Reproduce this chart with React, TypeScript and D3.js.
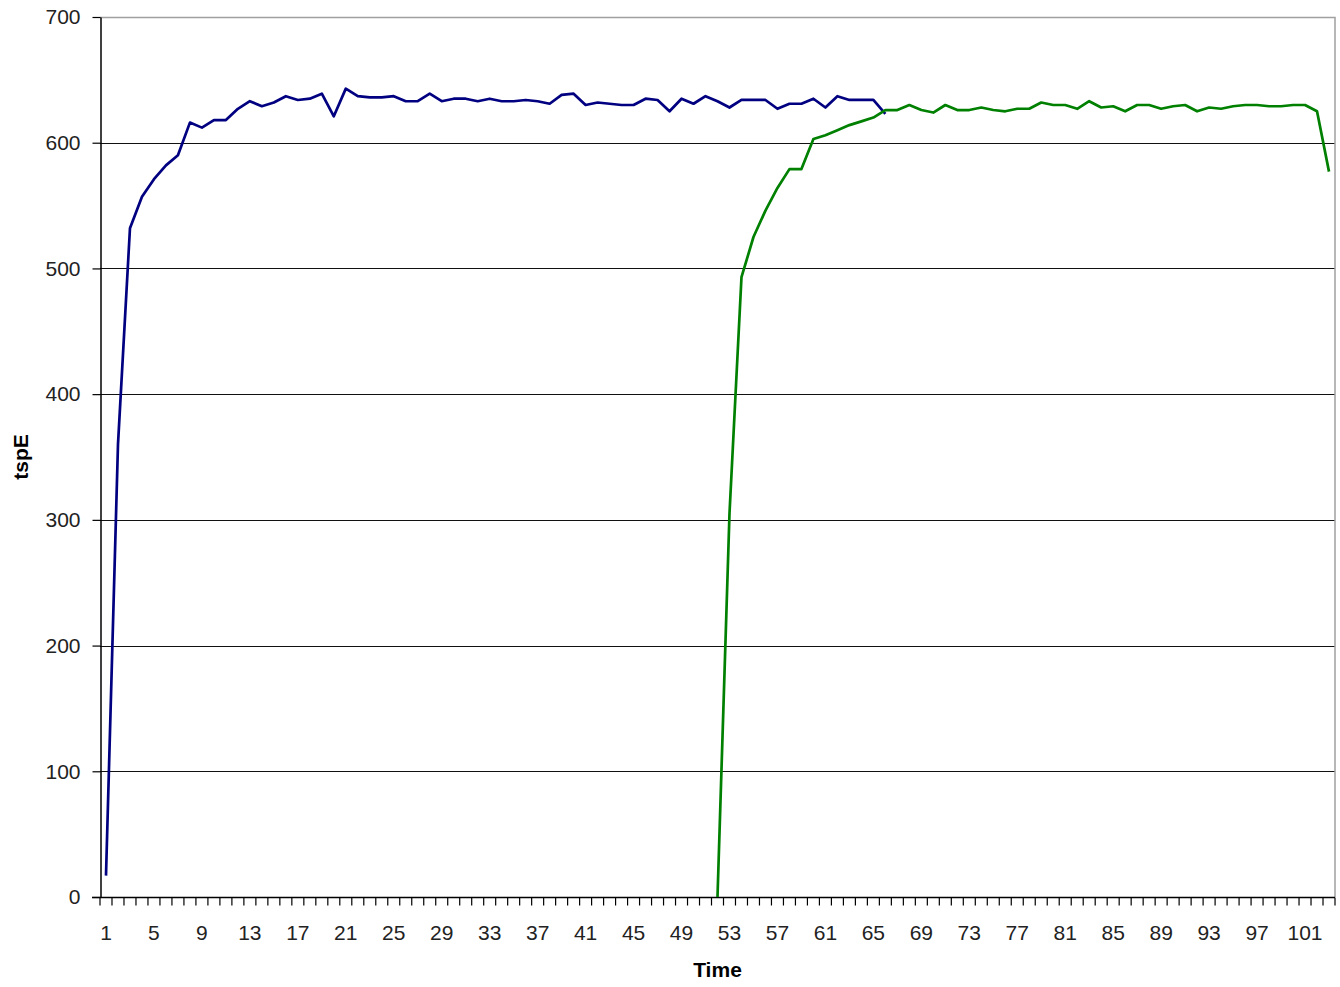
import React, { useEffect, useRef } from 'react';
import * as d3 from 'd3';

// category axis: Time 1..103, labels every 4th
const timeSteps: number[] = Array.from({ length: 103 }, (_, i) => i + 1);
const timeLabels = [1, 5, 9, 13, 17, 21, 25, 29, 33, 37, 41, 45, 49, 53, 57, 61, 65, 69, 73, 77, 81, 85, 89, 93, 97, 101];
const yTicks = [0, 100, 200, 300, 400, 500, 600, 700];

// first run, starts at Time 1
const blueStart = 1;
const blueValues = [
  17, 360, 532, 557, 571, 582, 590, 616, 612, 618,
  618, 627, 633, 629, 632, 637, 634, 635, 639, 621,
  643, 637, 636, 636, 637, 633, 633, 639, 633, 635,
  635, 633, 635, 633, 633, 634, 633, 631, 638, 639,
  630, 632, 631, 630, 630, 635, 634, 625, 635, 631,
  637, 633, 628, 634, 634, 634, 627, 631, 631, 635,
  628, 637, 634, 634, 634, 623,
];

// second run, starts at Time 52
const greenStart = 52;
const greenValues = [
  0, 305, 493, 525, 546, 564, 579, 579, 603, 606,
  610, 614, 617, 620, 626, 626, 630, 626, 624, 630,
  626, 626, 628, 626, 625, 627, 627, 632, 630, 630,
  627, 633, 628, 629, 625, 630, 630, 627, 629, 630,
  625, 628, 627, 629, 630, 630, 629, 629, 630, 630,
  625, 577,
];

const series = [
  { name: 'run1', start: blueStart, values: blueValues, color: '#000080' },
  { name: 'run2', start: greenStart, values: greenValues, color: '#008000' },
];

const WIDTH = 1340;
const HEIGHT = 987;
const FONT = '"Liberation Sans", Arial, sans-serif';

export default function App() {
  const svgRef = useRef<SVGSVGElement>(null);

  useEffect(() => {
    if (!svgRef.current) return;
    const svg = d3.select(svgRef.current);
    svg.selectAll('*').remove();

    const left = 100, right = 1335, top = 17, bottom = 897;

    const x = d3.scaleBand<number>()
      .domain(timeSteps)
      .range([left, right])
      .paddingInner(0)
      .paddingOuter(0);
    const xc = (d: number) => (x(d) ?? 0) + x.bandwidth() / 2;

    const y = d3.scaleLinear().domain([0, 700]).range([bottom, top]);

    // gridlines
    svg.append('g')
      .selectAll('line')
      .data(yTicks.filter(t => t > 0 && t < 700))
      .join('line')
      .attr('x1', left).attr('x2', right)
      .attr('y1', d => Math.round(y(d)) + 0.5).attr('y2', d => Math.round(y(d)) + 0.5)
      .attr('stroke', '#111').attr('stroke-width', 1.2);

    // plot border (top / right)
    svg.append('path')
      .attr('d', `M${left},${Math.round(top) + 0.5}H${right}V${bottom}`)
      .attr('fill', 'none')
      .attr('stroke', '#a0a0a0')
      .attr('stroke-width', 1.5);

    // y axis
    const yAxis = svg.append('g')
      .attr('transform', `translate(${left + 0.5},0)`)
      .call(d3.axisLeft(y).tickValues(yTicks).tickSize(8).tickPadding(12).tickSizeOuter(0));
    yAxis.select('.domain').attr('stroke', '#000').attr('stroke-width', 1.5);
    yAxis.selectAll('.tick line').attr('stroke', '#000').attr('stroke-width', 1.2);
    yAxis.selectAll('.tick text')
      .attr('font-family', FONT).attr('font-size', 21).attr('fill', '#222');

    // x axis: ticks on category boundaries
    const xg = svg.append('g').attr('transform', `translate(0,${bottom + 0.5})`);
    xg.append('line')
      .attr('x1', left - 8).attr('x2', right)
      .attr('stroke', '#000').attr('stroke-width', 1.5);
    xg.selectAll('line.tk')
      .data(timeSteps.concat([timeSteps.length + 1]))
      .join('line')
      .attr('class', 'tk')
      .attr('x1', d => d <= timeSteps.length ? (x(d) ?? 0) : right)
      .attr('x2', d => d <= timeSteps.length ? (x(d) ?? 0) : right)
      .attr('y1', 0).attr('y2', 8)
      .attr('stroke', '#000').attr('stroke-width', 1.2);
    xg.selectAll('text')
      .data(timeLabels)
      .join('text')
      .attr('x', d => xc(d))
      .attr('y', 42)
      .attr('text-anchor', 'middle')
      .attr('font-family', FONT).attr('font-size', 21).attr('fill', '#222')
      .text(d => d);

    // series lines
    series.forEach(s => {
      const lg = d3.line<number>()
        .x((_, i) => xc(s.start + i))
        .y(d => y(d))
        .curve(d3.curveLinear);
      svg.append('path')
        .datum(s.values)
        .attr('d', lg)
        .attr('fill', 'none')
        .attr('stroke', s.color)
        .attr('stroke-width', 2.7)
        .attr('stroke-linejoin', 'round');
    });

    // axis titles
    svg.append('text')
      .attr('transform', `translate(28,${(top + bottom) / 2}) rotate(-90)`)
      .attr('text-anchor', 'middle')
      .attr('font-family', FONT).attr('font-size', 21).attr('font-weight', 'bold')
      .attr('fill', '#000')
      .text('tspE');

    svg.append('text')
      .attr('x', (left + right) / 2)
      .attr('y', 977)
      .attr('text-anchor', 'middle')
      .attr('font-family', FONT).attr('font-size', 21).attr('font-weight', 'bold')
      .attr('fill', '#000')
      .text('Time');
  }, []);

  return (
    <svg
      ref={svgRef}
      width={WIDTH}
      height={HEIGHT}
      style={{ position: 'absolute', left: 0, top: 0, background: '#fff' }}
    />
  );
}
